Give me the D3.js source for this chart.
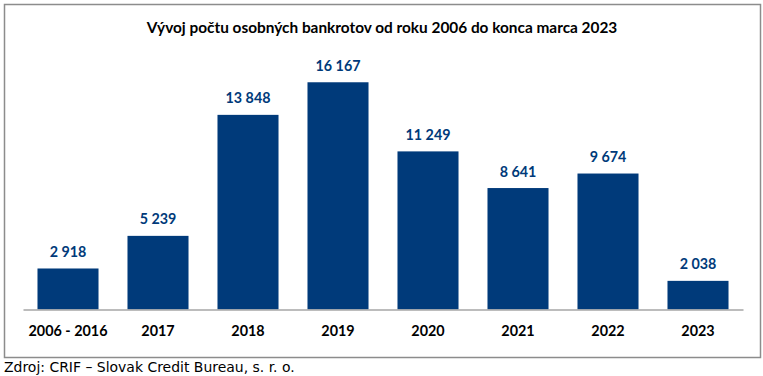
<!DOCTYPE html>
<html>
<head>
<meta charset="utf-8">
<script src="https://cdn.jsdelivr.net/npm/d3@7"></script>
<style>
  html, body { margin: 0; padding: 0; background: #fff; }
  svg { display: block; }
</style>
</head>
<body>
<svg id="chart" width="763" height="376"></svg>
<script>
const titleText = "Vývoj počtu osobných bankrotov od roku 2006 do konca marca 2023";
const sourceText = "Zdroj: CRIF – Slovak Credit Bureau, s. r. o.";
const categories = ["2006 - 2016", "2017", "2018", "2019", "2020", "2021", "2022", "2023"];
const values = [2918, 5239, 13848, 16167, 11249, 8641, 9674, 2038];

const W = 763, H = 376;
const barColor = "#003a7a";
const fontMain = "Lato, 'Open Sans', sans-serif";

const svg = d3.select("#chart");
const locale = d3.formatLocale({decimal: ",", thousands: "\u00a0", grouping: [3], currency: ["", " €"]});
const fmt = locale.format(",d");

// helper: fit font size to a target width
function fitSize(text, weight, family, targetW, base) {
  const t = svg.append("text").attr("font-family", family).attr("font-weight", weight)
    .attr("font-size", base).text(text);
  const w = t.node().getComputedTextLength();
  t.remove();
  return base * targetW / w;
}

// frame
svg.append("rect").attr("x", 4.5).attr("y", 4.5).attr("width", 756).attr("height", 353)
  .attr("fill", "#fff").attr("stroke", "#8c8c8c").attr("stroke-width", 1.5);

// title
const titleSize = fitSize(titleText, 700, fontMain, 471, 14);
svg.append("text").attr("x", 382).attr("y", 33.3).attr("text-anchor", "middle")
  .attr("font-family", fontMain).attr("font-weight", 700).attr("font-size", titleSize)
  .attr("fill", "#000").text(titleText);

const x = d3.scaleBand().domain(categories).range([23, 743]).paddingInner(0.322).paddingOuter(0.161);
const y = d3.scaleLinear().domain([0, 18000]).range([309.5, 56.5]);

// bars
svg.append("g").selectAll("rect").data(values).join("rect")
  .attr("x", (d, i) => x(categories[i]))
  .attr("y", d => y(d))
  .attr("width", x.bandwidth())
  .attr("height", d => y(0) - y(d))
  .attr("fill", barColor);

// value labels
const valSize = fitSize(fmt(13848), 700, fontMain, 45, 16);
svg.append("g").selectAll("text").data(values).join("text")
  .attr("x", (d, i) => x(categories[i]) + x.bandwidth() / 2)
  .attr("y", d => y(d) - 11.5)
  .attr("text-anchor", "middle")
  .attr("font-family", fontMain).attr("font-weight", 700).attr("font-size", valSize)
  .attr("fill", barColor)
  .text(d => fmt(d));

// x axis
const catSize = fitSize("2006 - 2016", 700, fontMain, 79, 16);
const axis = svg.append("g").attr("transform", "translate(0,309.5)")
  .call(d3.axisBottom(x).tickSize(0).tickSizeOuter(0));
axis.select(".domain").attr("stroke", "#a6a6a6").attr("stroke-width", 1.5);
axis.selectAll(".tick text")
  .attr("y", 26.5).attr("dy", 0)
  .attr("font-family", fontMain).attr("font-weight", 700).attr("font-size", catSize)
  .attr("fill", "#000");

// source
const srcFont = "'DejaVu Sans', Verdana, sans-serif";
const srcSize = fitSize(sourceText, 400, srcFont, 291, 12);
svg.append("text").attr("x", 4).attr("y", 371.5)
  .attr("font-family", srcFont).attr("font-size", srcSize)
  .attr("fill", "#000").text(sourceText);
</script>
</body>
</html>
